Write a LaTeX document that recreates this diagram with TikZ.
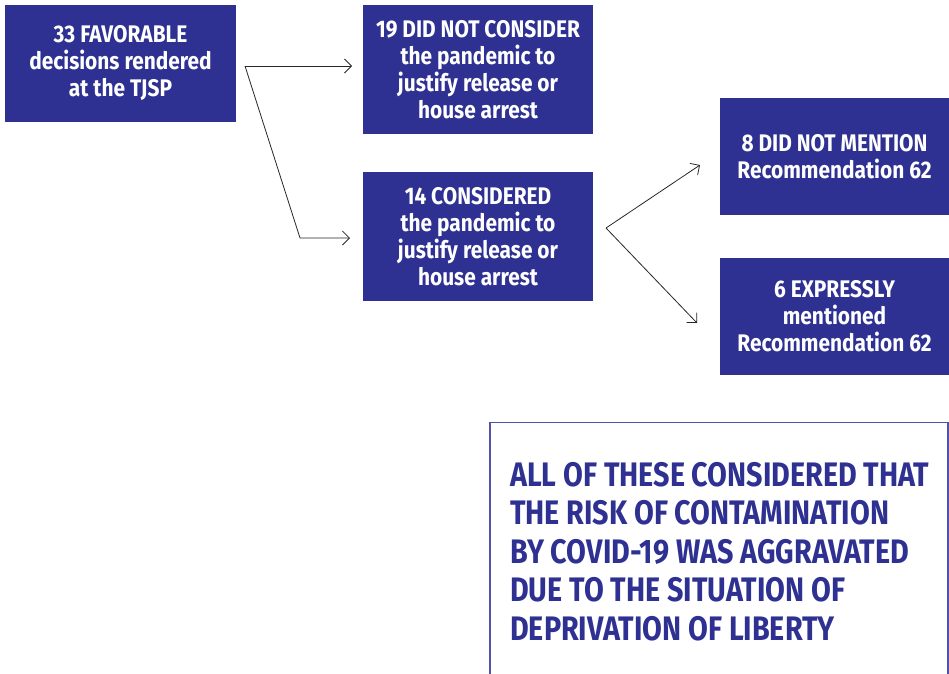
\documentclass[tikz,border=0pt]{standalone}
\usepackage{fontspec}
\newfontfamily\condfont{Fira Sans}[FakeStretch=0.87]
\newfontfamily\notefont{Fira Sans}[FakeStretch=0.845]
\usetikzlibrary{arrows.meta}
\definecolor{boxblue}{HTML}{2E3192}
\definecolor{edgeblue}{HTML}{4F52A8}
\begin{document}
\begin{tikzpicture}[x=1pt,y=-1pt,
  bluebox/.style={fill=boxblue, text=white, inner sep=0pt, align=center,
    minimum width=230pt, font=\condfont\bfseries\fontsize{24}{27}\selectfont},
  arr/.style={-{Straight Barb[length=7pt,width=14pt]}, line width=0.8pt, draw=black!85}]
\useasboundingbox (0,0) rectangle (949,673);
% boxes
\node[bluebox, minimum width=231pt, minimum height=117pt] (A) at (120.5,63.5)
  {33 FAVORABLE\\decisions rendered\\at the TJSP};
\node[bluebox, minimum height=129pt] (B) at (478,69.5)
  {19 DID NOT CONSIDER\\the pandemic to\\justify release or\\house arrest};
\node[bluebox, minimum height=129pt] (C) at (478,236.5)
  {14 CONSIDERED\\the pandemic to\\justify release or\\house arrest};
\node[bluebox, minimum width=229pt, minimum height=117pt] (D) at (834.5,156.5)
  {8 DID NOT MENTION\\Recommendation 62};
\node[bluebox, minimum width=229pt, minimum height=117pt] (E) at (834.5,316.5)
  {6 EXPRESSLY\\mentioned\\Recommendation 62};
% connectors
\coordinate (s1) at (245,66);
\coordinate (b1) at (352,66);
\coordinate (k1) at (300,238);
\coordinate (c1) at (350,238);
\coordinate (s2) at (606,228);
\coordinate (d1) at (700,165);
\coordinate (e1) at (697,323);
\draw[arr] (s1) -- (b1);
\draw[arr] (s1) -- (k1) -- (c1);
\draw[arr] (s2) -- (d1);
\draw[arr] (s2) -- (e1);
% note box
\draw[edgeblue, line width=1.5pt] (490,674) -- (490,422.5) -- (948,422.5) -- (948,674);
\node[anchor=base west, inner sep=0pt, align=left, text=boxblue,
  font=\notefont\bfseries\fontsize{34}{38.5}\selectfont] (N) at (510,640)
  {ALL OF THESE CONSIDERED THAT\\THE RISK OF CONTAMINATION\\BY COVID-19 WAS AGGRAVATED\\DUE TO THE SITUATION OF\\DEPRIVATION OF LIBERTY};
\end{tikzpicture}
\end{document}
